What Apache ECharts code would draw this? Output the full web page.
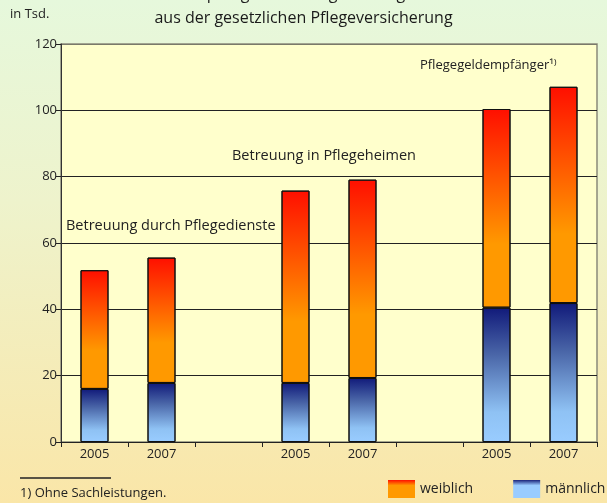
<!DOCTYPE html>
<html>
<head>
<meta charset="utf-8">
<script src="https://cdn.jsdelivr.net/npm/echarts@6/dist/echarts.min.js"></script>
<style>
  html, body { margin: 0; padding: 0; }
  body { background: linear-gradient(to bottom, #e6f8dc 0%, #eef3cc 40%, #fae6a8 100%); }
  #chart { width: 607px; height: 503px; }
</style>
</head>
<body>
<div id="chart"></div>
<script>
// Kategorien: drei Gruppen mit je 2005 / 2007, Lücken dazwischen
var years = ['2005', '2007', '', '2005', '2007', '', '2005', '2007'];
var maennlich = [16, 17.8, '-', 17.8, 19.3, '-', 40.5, 41.9];
var weiblich = [35.8, 37.8, '-', 58, 59.8, '-', 59.9, 65.2];
var yTicks = [0, 20, 40, 60, 80, 100, 120];
var groupLabels = ['Betreuung durch Pflegedienste', 'Betreuung in Pflegeheimen', 'Pflegegeldempfänger¹⁾'];

var chart = echarts.init(document.getElementById('chart'));

var redGrad = new echarts.graphic.LinearGradient(0, 0, 0, 1, [
    { offset: 0, color: '#ff0f00' },
    { offset: 0.68, color: '#ff9900' },
    { offset: 1, color: '#ff9900' }
]);
var blueGrad = new echarts.graphic.LinearGradient(0, 0, 0, 1, [
    { offset: 0, color: '#111a7a' },
    { offset: 0.35, color: '#4a66a8' },
    { offset: 0.78, color: '#8fc2f4' },
    { offset: 1, color: '#99ccff' }
]);

var font = 'Open Sans';

var option = {
    backgroundColor: 'transparent',
    textStyle: { fontFamily: font },
    title: {
        text: 'Empfänger von Pflegeleistungen\naus der gesetzlichen Pflegeversicherung',
        left: 'center',
        top: -23,
        textStyle: { fontSize: 16, fontWeight: 'normal', color: '#1a1a1a', lineHeight: 24, fontFamily: font }
    },
    legend: {
        left: 388,
        top: 480,
        width: 219,
        padding: 0,
        itemWidth: 27,
        itemHeight: 18,
        itemGap: 40,
        textStyle: { fontSize: 14, color: '#222' },
        data: [
            { name: 'weiblich', icon: 'rect', itemStyle: { borderWidth: 0, color: new echarts.graphic.LinearGradient(0, 0, 0, 1, [
                { offset: 0, color: '#ff1000' }, { offset: 0.3, color: '#ff9900' }, { offset: 1, color: '#ff9900' }]) } },
            { name: 'männlich', icon: 'rect', itemStyle: { borderWidth: 0, color: new echarts.graphic.LinearGradient(0, 0, 0, 1, [
                { offset: 0, color: '#1a237a' }, { offset: 0.3, color: '#99ccff' }, { offset: 1, color: '#99ccff' }]) } }
        ]
    },
    grid: {
        left: 61,
        right: 10,
        top: 44,
        bottom: 61,
        show: true,
        backgroundColor: '#ffffcc',
        borderColor: '#8a8a7a',
        borderWidth: 1.5
    },
    xAxis: {
        type: 'category',
        data: years,
        axisLine: { lineStyle: { color: '#222', width: 1 } },
        axisTick: { show: true, length: 5, lineStyle: { color: '#222' } },
        axisLabel: { fontSize: 13, color: '#222', margin: 6 }
    },
    yAxis: {
        type: 'value',
        min: 0,
        max: 120,
        interval: 20,
        axisLine: { show: true, lineStyle: { color: '#333' } },
        axisTick: { show: true, length: 5, lineStyle: { color: '#222' } },
        axisLabel: { fontSize: 13, color: '#222', margin: 4,
            formatter: function (v) { return yTicks.indexOf(v) >= 0 ? String(v) : ''; } },
        splitLine: { show: true, lineStyle: { color: ['#222', '#222', '#222', '#222', '#222', '#222', '#7a7a6a'], width: 1 } }
    },
    graphic: [
        { type: 'text', left: 10, top: 8, style: { text: 'in Tsd.', font: '13px ' + font, fill: '#222' } },
        { type: 'text', left: 66, top: 218, style: { text: groupLabels[0], font: '14.5px ' + font, fill: '#222' } },
        { type: 'text', left: 232, top: 148, style: { text: groupLabels[1], font: '14.5px ' + font, fill: '#222' } },
        { type: 'text', left: 420, top: 59, style: { text: groupLabels[2], font: '13px ' + font, fill: '#222' } },
        { type: 'line', shape: { x1: 20, y1: 478, x2: 111, y2: 478 }, style: { stroke: '#222', lineWidth: 1.5 } },
        { type: 'text', left: 20, top: 487, style: { text: '1) Ohne Sachleistungen.', font: '13px ' + font, fill: '#222' } }
    ],
    series: [
        {
            name: 'männlich',
            type: 'bar',
            stack: 'g',
            barWidth: 28,
            data: maennlich,
            itemStyle: { color: blueGrad, borderColor: '#111', borderWidth: 1 }
        },
        {
            name: 'weiblich',
            type: 'bar',
            stack: 'g',
            barWidth: 28,
            data: weiblich,
            itemStyle: { color: redGrad, borderColor: '#111', borderWidth: 1 }
        }
    ]
};

chart.setOption(option);
</script>
</body>
</html>
